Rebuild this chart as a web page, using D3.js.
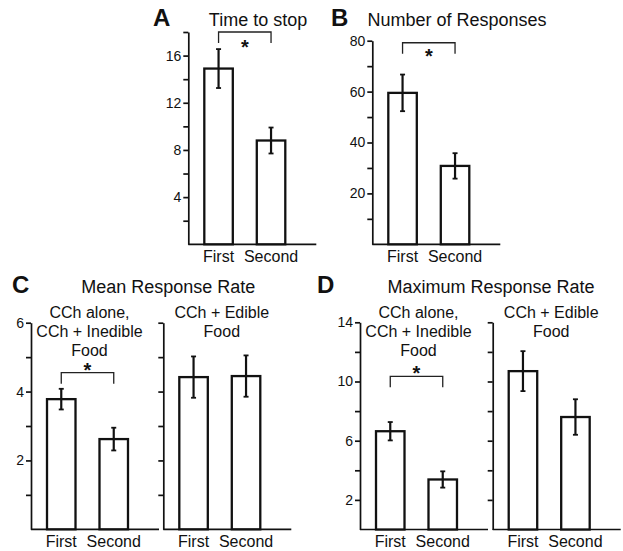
<!DOCTYPE html>
<html>
<head>
<meta charset="utf-8">
<script src="https://cdn.jsdelivr.net/npm/d3@7"></script>
<style>
  body { margin: 0; background: #fff; }
  text { font-family: "Liberation Sans", Arial, sans-serif; fill: #111; }
</style>
</head>
<body>
<div id="chart-area"></div>
<script>
// data
const groups = ["First", "Second"];

const timeToStop = [14.9, 8.8];
const timeToStopErr = [1.65, 1.1];
const timeTicks = [2, 4, 6, 8, 10, 12, 14, 16, 18];
const timeLabels = [4, 8, 12, 16];

const responses = [59.5, 30.8];
const responsesErr = [7.2, 5.0];
const responseTicks = [10, 20, 30, 40, 50, 60, 70, 80];
const responseLabels = [20, 40, 60, 80];

const meanRateInedible = [3.78, 2.62];
const meanRateInedibleErr = [0.3, 0.33];
const meanRateEdible = [4.42, 4.45];
const meanRateEdibleErr = [0.6, 0.6];
const meanTicks = [1, 2, 3, 4, 5, 6];
const meanLabels = [2, 4, 6];

const maxRateInedible = [6.64, 3.38];
const maxRateInedibleErr = [0.62, 0.55];
const maxRateEdible = [10.7, 7.6];
const maxRateEdibleErr = [1.35, 1.2];
const maxTicks = [2, 4, 6, 8, 10, 12, 14];
const maxLabels = [2, 6, 10, 14];

const inedibleTitle = ["CCh alone,", "CCh + Inedible", "Food"];
const edibleTitle = ["CCh + Edible", "Food"];

let svg = d3.select("#chart-area")
  .append("svg")
  .attr("width", 623)
  .attr("height", 551);

function drawPanel(p) {
  let g = svg.append("g");

  let y = d3.scaleLinear().domain([0, p.max]).range([p.bottom, p.top]);
  let x = d3.scaleBand()
    .domain(groups)
    .range([p.x0, p.x0 + 113])
    .paddingInner(0.457)
    .paddingOuter(0.305);

  let yAxis = d3.axisLeft(y)
    .tickValues(p.ticks)
    .tickSize(5)
    .tickSizeOuter(0)
    .tickPadding(2)
    .tickFormat(d => (p.showLabels && p.labels.includes(d)) ? d : "");

  let ax = g.append("g")
    .attr("transform", "translate(" + p.x0 + ",0)")
    .call(yAxis);
  ax.selectAll("path, line").attr("stroke", "#111").attr("stroke-width", 1.7);
  ax.selectAll("text").style("font-size", "14px").attr("font-family", null);

  // baseline
  g.append("line")
    .attr("x1", p.x0).attr("x2", p.x0 + 128)
    .attr("y1", y(0)).attr("y2", y(0))
    .attr("stroke", "#111").attr("stroke-width", 1.7);

  g.selectAll(".bar")
    .data(p.values)
    .enter()
    .append("rect")
    .attr("class", "bar")
    .attr("x", (d, i) => x(groups[i]))
    .attr("y", d => y(d))
    .attr("width", x.bandwidth())
    .attr("height", d => y(0) - y(d))
    .attr("fill", "#fff")
    .attr("stroke", "#111")
    .attr("stroke-width", 2.3);

  // error bars
  p.values.forEach(function(v, i) {
    let cx = x(groups[i]) + x.bandwidth() / 2;
    let e = p.errs[i];
    g.append("line")
      .attr("x1", cx).attr("x2", cx)
      .attr("y1", y(v + e)).attr("y2", y(v - e))
      .attr("stroke", "#111").attr("stroke-width", 2.2);
    [v + e, v - e].forEach(function(t) {
      g.append("line")
        .attr("x1", cx - 2.5).attr("x2", cx + 2.5)
        .attr("y1", y(t)).attr("y2", y(t))
        .attr("stroke", "#111").attr("stroke-width", 1.8);
    });
  });

  // x labels
  groups.forEach(function(name) {
    g.append("text")
      .attr("x", x(name) + x.bandwidth() / 2)
      .attr("y", p.labelY)
      .attr("text-anchor", "middle")
      .style("font-size", "16px")
      .text(name);
  });

  // significance bracket
  if (p.sig) {
    let x1 = x(groups[0]) + x.bandwidth() / 2;
    let x2 = x(groups[1]) + x.bandwidth() / 2;
    let yt = y(p.sig.at);
    g.append("path")
      .attr("d", "M" + x1 + "," + (yt + 11) + "V" + yt + "H" + x2 + "V" + (yt + 11))
      .attr("fill", "none")
      .attr("stroke", "#222")
      .attr("stroke-width", 1.3);
    g.append("text")
      .attr("x", (x1 + x2) / 2)
      .attr("y", yt + p.sig.starDy)
      .attr("text-anchor", "middle")
      .style("font-size", "20px")
      .style("font-weight", "bold")
      .text("*");
  }

  // subtitle lines above the sub panel
  if (p.sub) {
    let cx = (x(groups[0]) + x(groups[1]) + x.bandwidth()) / 2 + 2;
    p.sub.forEach(function(line, i) {
      g.append("text")
        .attr("x", cx)
        .attr("y", 317.7 + i * 19)
        .attr("text-anchor", "middle")
        .style("font-size", "16px")
        .text(line);
    });
  }
}

function heading(letter, lx, title, tx, ty) {
  svg.append("text")
    .attr("x", lx).attr("y", ty)
    .style("font-size", "24px")
    .style("font-weight", "bold")
    .text(letter);
  svg.append("text")
    .attr("x", tx).attr("y", ty)
    .attr("text-anchor", "middle")
    .style("font-size", "18px")
    .text(title);
}

// ---- A ----
heading("A", 153, "Time to stop", 258, 26);
drawPanel({x0: 188.3, top: 32, bottom: 244.3, max: 18,
  values: timeToStop, errs: timeToStopErr,
  ticks: timeTicks, labels: timeLabels, showLabels: true,
  labelY: 262, sig: {at: 18, starDy: 21.5}});

// ---- B ----
heading("B", 331, "Number of Responses", 457, 26);
drawPanel({x0: 372.3, top: 40.7, bottom: 244.3, max: 80,
  values: responses, errs: responsesErr,
  ticks: responseTicks, labels: responseLabels, showLabels: true,
  labelY: 262, sig: {at: 79.2, starDy: 19.8}});

// ---- C ----
heading("C", 12, "Mean Response Rate", 168.3, 293.3);
drawPanel({x0: 31, top: 322.7, bottom: 529.3, max: 6,
  values: meanRateInedible, errs: meanRateInedibleErr,
  ticks: meanTicks, labels: meanLabels, showLabels: true,
  labelY: 546.7, sig: {at: 4.55, starDy: 4.5}, sub: inedibleTitle});
drawPanel({x0: 163.3, top: 322.7, bottom: 529.3, max: 6,
  values: meanRateEdible, errs: meanRateEdibleErr,
  ticks: meanTicks, labels: meanLabels, showLabels: false,
  labelY: 546.7, sub: edibleTitle});

// ---- D ----
heading("D", 317, "Maximum Response Rate", 491, 293.3);
drawPanel({x0: 360, top: 322.3, bottom: 529.5, max: 14,
  values: maxRateInedible, errs: maxRateInedibleErr,
  ticks: maxTicks, labels: maxLabels, showLabels: true,
  labelY: 546.7, sig: {at: 10.35, starDy: 4}, sub: inedibleTitle});
drawPanel({x0: 492.7, top: 322.3, bottom: 529.5, max: 14,
  values: maxRateEdible, errs: maxRateEdibleErr,
  ticks: maxTicks, labels: maxLabels, showLabels: false,
  labelY: 546.7, sub: edibleTitle});
</script>
</body>
</html>
